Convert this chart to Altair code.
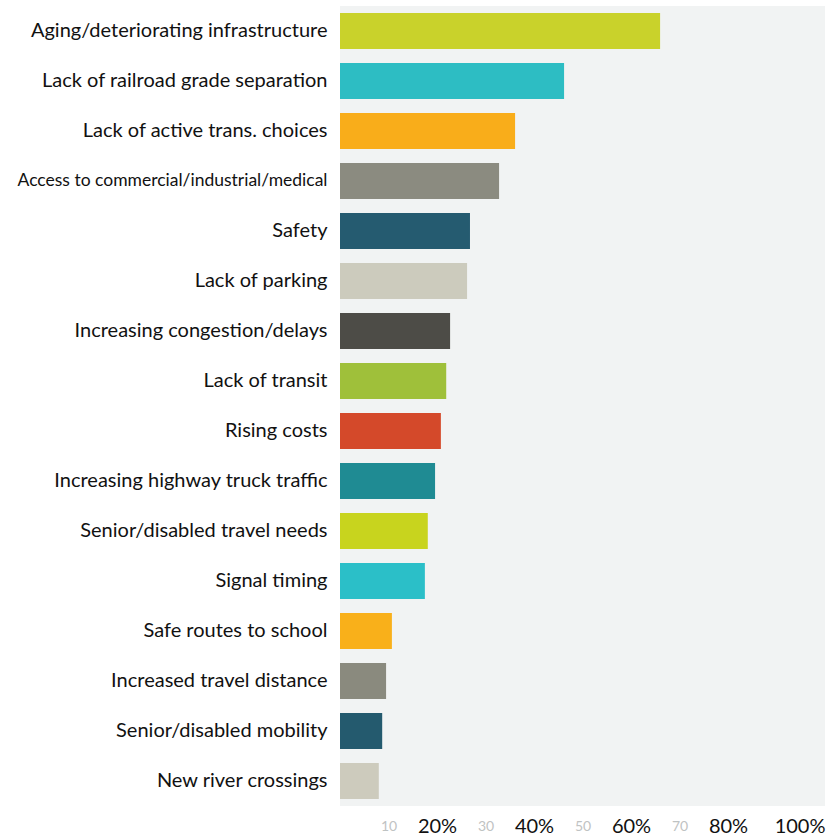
import altair as alt
import pandas as pd

categories = [
    "Aging/deteriorating infrastructure",
    "Lack of railroad grade separation",
    "Lack of active trans. choices",
    "Access to commercial/industrial/medical",
    "Safety",
    "Lack of parking",
    "Increasing congestion/delays",
    "Lack of transit",
    "Rising costs",
    "Increasing highway truck traffic",
    "Senior/disabled travel needs",
    "Signal timing",
    "Safe routes to school",
    "Increased travel distance",
    "Senior/disabled mobility",
    "New river crossings",
]
values = [66.0, 46.2, 36.1, 32.8, 26.8, 26.2, 22.7, 21.9, 20.8, 19.6, 18.1, 17.5, 10.7, 9.5, 8.7, 8.0]
colors = [
    "#c9d22b", "#2dbdc3", "#f9ad1a", "#8b8b80", "#255b70", "#cccbbd",
    "#4d4c47", "#9fc03a", "#d4492a", "#1f8b93", "#c8d41e", "#2bbfc8",
    "#f9b01a", "#8a8a7e", "#245a6e", "#cdcbbd",
]
tick_values = [10, 20, 30, 40, 50, 60, 70, 80, 100]

df = pd.DataFrame({"cat": categories, "val": values, "color": colors})

even_test = "datum.value % 20 == 0"

chart = (
    alt.Chart(df)
    .mark_bar()
    .encode(
        y=alt.Y(
            "cat:N",
            sort=categories,
            title=None,
            scale=alt.Scale(paddingInner=0.28, paddingOuter=0.14),
            axis=alt.Axis(
                domain=False,
                ticks=False,
                labelPadding=13,
                labelFont="Lato",
                labelColor="#111111",
                labelLimit=400,
                labelFontSize={
                    "condition": {
                        "test": "datum.value == 'Access to commercial/industrial/medical'",
                        "value": 17.5,
                    },
                    "value": 20,
                },
            ),
        ),
        x=alt.X(
            "val:Q",
            title=None,
            scale=alt.Scale(domain=[0, 100], nice=False),
            axis=alt.Axis(
                values=tick_values,
                domain=False,
                ticks=False,
                grid=False,
                labelPadding=20,
                labelBaseline="middle",
                labelFont="Lato",
                labelFlush=True,
                labelFlushOffset=0,
                labelExpr="datum.value % 20 == 0 ? datum.value + '%' : '' + datum.value",
                labelColor={
                    "condition": {"test": even_test, "value": "#111111"},
                    "value": "#bfc3c3",
                },
                labelFontSize={
                    "condition": {"test": even_test, "value": 20},
                    "value": 14,
                },
            ),
        ),
        color=alt.Color("color:N", scale=None, legend=None),
    )
    .properties(
        width=485,
        height=800,
        autosize=alt.AutoSizeParams(type="none"),
        padding={"left": 340, "top": 6, "right": 5, "bottom": 33},
        background="white",
    )
    .configure_view(fill="#f1f3f3", stroke=None)
)

chart.save("out.html", embed_options={"renderer": "svg", "actions": False})
